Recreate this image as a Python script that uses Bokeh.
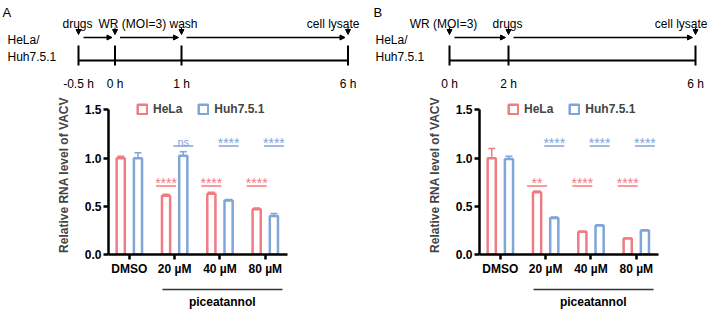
import numpy as np
from bokeh.plotting import figure
from bokeh.models import (ColumnDataSource, Whisker, TeeHead, FixedTicker, LinearAxis,
                          Legend, LegendItem, Arrow, NormalHead, Range1d, NumeralTickFormatter)
from bokeh.layouts import column, row
from bokeh.embed import file_html
from bokeh.resources import INLINE
from bokeh.core.properties import value

FONT = "Liberation Sans"
RED = "#F07B82"
BLUE = "#7FA5D9"

# ---------------- data ----------------
categories = ["DMSO", "20 µM", "40 µM", "80 µM"]
series = ["HeLa", "Huh7.5.1"]

a_hela = [1.00, 0.61, 0.63, 0.47]
a_hela_err = [0.02, 0.015, 0.015, 0.012]
a_huh = [1.00, 1.025, 0.56, 0.40]
a_huh_err = [0.055, 0.04, 0.012, 0.025]
a_sig_hela = ["", "****", "****", "****"]
a_sig_huh = ["", "ns", "****", "****"]

b_hela = [1.00, 0.645, 0.235, 0.165]
b_hela_err = [0.10, 0.015, 0.006, 0.006]
b_huh = [0.99, 0.38, 0.30, 0.25]
b_huh_err = [0.03, 0.008, 0.008, 0.008]
b_sig_hela = ["", "**", "****", "****"]
b_sig_huh = ["", "****", "****", "****"]

y_ticks = [0.0, 0.5, 1.0, 1.5]
y_label = "Relative RNA level of VACV"
group_label = "piceatannol"

# timeline schematic
cells_label = ["HeLa/", "Huh7.5.1"]
tl_a_times = ["-0.5 h", "0 h", "1 h", "6 h"]
tl_b_times = ["0 h", "2 h", "6 h"]
tl_a_events = ["drugs", "WR (MOI=3) wash", "cell lysate"]
tl_b_events = ["WR (MOI=3)", "drugs", "cell lysate"]

# schematic layout (pixel positions of the diagram, not data)
tl_a_pos = [78, 114.5, 181, 347.5]
tl_b_pos = [449, 508, 695]
tl_a_event_x = [77, 98, 359]
tl_a_event_align = ["center", "left", "right"]
tl_b_event_x = [443, 507, 707]
tl_b_event_align = ["center", "center", "right"]


def text_kw(size="12px", style="normal", color="black", align="left", baseline="alphabetic"):
    return dict(text_font=value(FONT), text_font_size=value(size), text_font_style=style,
                text_color=color, text_align=align, text_baseline=baseline)


# ---------------- top: timelines ----------------
top = figure(width=708, height=95, x_range=Range1d(0, 708), y_range=Range1d(95, 0),
             x_axis_type=None, y_axis_type=None, output_backend="svg",
             toolbar_location=None, min_border=0)
top.outline_line_color = None
top.grid.visible = False

LINE_Y, TICK_TOP, TICK_BOT = 60, 45, 65


def draw_timeline(p, letter, letter_x, pos, times, events, ev_x, ev_align, cell_x):
    p.text(x=[letter_x], y=[12], text=[letter], **text_kw("13px"))
    p.text(x=[cell_x, cell_x], y=[39, 56], text=cells_label, **text_kw())
    p.segment(x0=[pos[0]], y0=[LINE_Y], x1=[pos[-1]], y1=[LINE_Y], line_color="black", line_width=2)
    p.segment(x0=pos, y0=[TICK_TOP] * len(pos), x1=pos, y1=[TICK_BOT] * len(pos),
              line_color="black", line_width=2)
    p.text(x=pos, y=[83] * len(pos), text=times, **text_kw(align="center"))
    for t, x, a in zip(events, ev_x, ev_align):
        p.text(x=[x], y=[23], text=[t], **text_kw(align=a))
    dsrc = ColumnDataSource(dict(x=pos, y0=[27] * len(pos), y1=[34] * len(pos)))
    p.add_layout(Arrow(end=NormalHead(size=5, fill_color="black", line_color="black", line_width=1),
                       x_start="x", y_start="y0", x_end="x", y_end="y1", source=dsrc,
                       line_width=1, line_color="black"))
    xs = np.array(pos[:-1]) + 5
    xe = np.array(pos[1:]) - 3
    hsrc = ColumnDataSource(dict(xs=xs, xe=xe, y=[37] * len(xs)))
    p.add_layout(Arrow(end=NormalHead(size=5, fill_color="black", line_color="black", line_width=1),
                       x_start="xs", y_start="y", x_end="xe", y_end="y", source=hsrc,
                       line_width=1.5, line_color="black"))


draw_timeline(top, "A", 2, tl_a_pos, tl_a_times, tl_a_events, tl_a_event_x, tl_a_event_align, 7)
draw_timeline(top, "B", 373, tl_b_pos, tl_b_times, tl_b_events, tl_b_event_x, tl_b_event_align, 375)


# ---------------- bottom: bar panels ----------------
FRAME_W = 179
OFF, BAR_W = 0.19, 0.18
SIG_Y_HELA, SIG_Y_HUH, SIG_HALF = 0.71, 1.125, 0.22


def bar_panel(hela, hela_err, huh, huh_err, sig_hela, sig_huh, border_left):
    p = figure(width=354, height=216, x_range=Range1d(-0.46, 3.49), y_range=Range1d(0, 1.65),
               x_axis_type=None, y_axis_type=None, output_backend="svg", toolbar_location=None,
               min_border_left=border_left, min_border_right=354 - border_left - FRAME_W,
               min_border_top=0, min_border_bottom=51)
    p.outline_line_color = None
    p.grid.visible = False
    idx = np.arange(len(categories))

    renderers = []
    for vals, errs, sigs, sign, color, sig_y in ((hela, hela_err, sig_hela, -1, RED, SIG_Y_HELA),
                                                 (huh, huh_err, sig_huh, 1, BLUE, SIG_Y_HUH)):
        x = idx + sign * OFF
        src = ColumnDataSource(dict(x=x, top=vals, upper=np.array(vals) + np.array(errs)))
        r = p.vbar(x="x", top="top", width=BAR_W, bottom=0, source=src,
                   fill_color="white", line_color=color, line_width=2.5)
        renderers.append(r)
        p.add_layout(Whisker(source=src, base="x", lower="top", upper="upper", dimension="height",
                             line_color=color, line_width=1.5, lower_head=None,
                             upper_head=TeeHead(size=7, line_color=color, line_width=1.5)))
        keep = [i for i, s in enumerate(sigs) if s]
        sx = x[keep]
        p.segment(x0=sx - SIG_HALF, x1=sx + SIG_HALF, y0=[sig_y] * len(sx), y1=[sig_y] * len(sx),
                  line_color=color, line_width=1.5)
        labels = [sigs[i] for i in keep]
        yoff = [-4 if s == "ns" else -3 for s in labels]
        sizes = ["11px" if s == "ns" else "14px" for s in labels]
        p.text(x=sx, y=[sig_y] * len(sx), text=labels, y_offset=yoff,
               text_font=value(FONT), text_font_size=sizes, text_color=color,
               text_align="center", text_baseline="alphabetic")

    yaxis = LinearAxis(ticker=FixedTicker(ticks=y_ticks), formatter=NumeralTickFormatter(format="0.0"),
                       bounds=(0, 1.5), axis_label=y_label)
    xaxis = LinearAxis(ticker=FixedTicker(ticks=list(idx)),
                       major_label_overrides={int(i): c for i, c in zip(idx, categories)},
                       axis_label=" ", axis_label_text_font_size="1px", axis_label_standoff=7)
    for ax in (yaxis, xaxis):
        ax.axis_line_width = 2.5
        ax.axis_line_color = "black"
        ax.major_tick_line_width = 2.5
        ax.major_tick_line_color = "black"
        ax.major_tick_out = 5
        ax.major_tick_in = 0
        ax.minor_tick_line_color = None
        ax.major_label_text_font = FONT
        ax.major_label_text_font_size = "12px"
        ax.major_label_text_font_style = "bold"
        ax.major_label_text_color = "black"
        ax.major_label_standoff = 2
    yaxis.axis_label_text_font = FONT
    yaxis.axis_label_text_font_size = "12px"
    yaxis.axis_label_text_font_style = "bold"
    yaxis.axis_label_standoff = 11
    p.add_layout(yaxis, "left")
    p.add_layout(xaxis, "below")

    lo, hi = 0.73, 3.37
    mid = round((lo + hi) / 2, 2)
    gaxis = LinearAxis(ticker=FixedTicker(ticks=[mid]), bounds=(lo, hi),
                       major_label_overrides={mid: group_label})
    gaxis.axis_line_width = 1.5
    gaxis.axis_line_color = "#333333"
    gaxis.major_tick_out = 0
    gaxis.major_tick_in = 0
    gaxis.major_tick_line_color = None
    gaxis.minor_tick_line_color = None
    gaxis.major_label_standoff = 5
    gaxis.major_label_text_font = FONT
    gaxis.major_label_text_font_size = "12px"
    gaxis.major_label_text_font_style = "bold"
    gaxis.major_label_text_color = "black"
    p.add_layout(gaxis, "below")

    legend = Legend(items=[LegendItem(label=s, renderers=[r]) for s, r in zip(series, renderers)],
                    orientation="horizontal", location=(28, 138),
                    glyph_width=12, glyph_height=12, label_height=12, label_standoff=5,
                    spacing=15, padding=0, margin=0, border_line_color=None,
                    background_fill_alpha=0, label_text_font=FONT, label_text_font_size="12px",
                    label_text_font_style="bold")
    p.add_layout(legend)
    return p


pa = bar_panel(a_hela, a_hela_err, a_huh, a_huh_err, a_sig_hela, a_sig_huh, 108)
pb = bar_panel(b_hela, b_hela_err, b_huh, b_huh_err, b_sig_hela, b_sig_huh, 125)

layout = column(top, row(pa, pb))
open("out.html", "w").write(file_html(layout, INLINE))
